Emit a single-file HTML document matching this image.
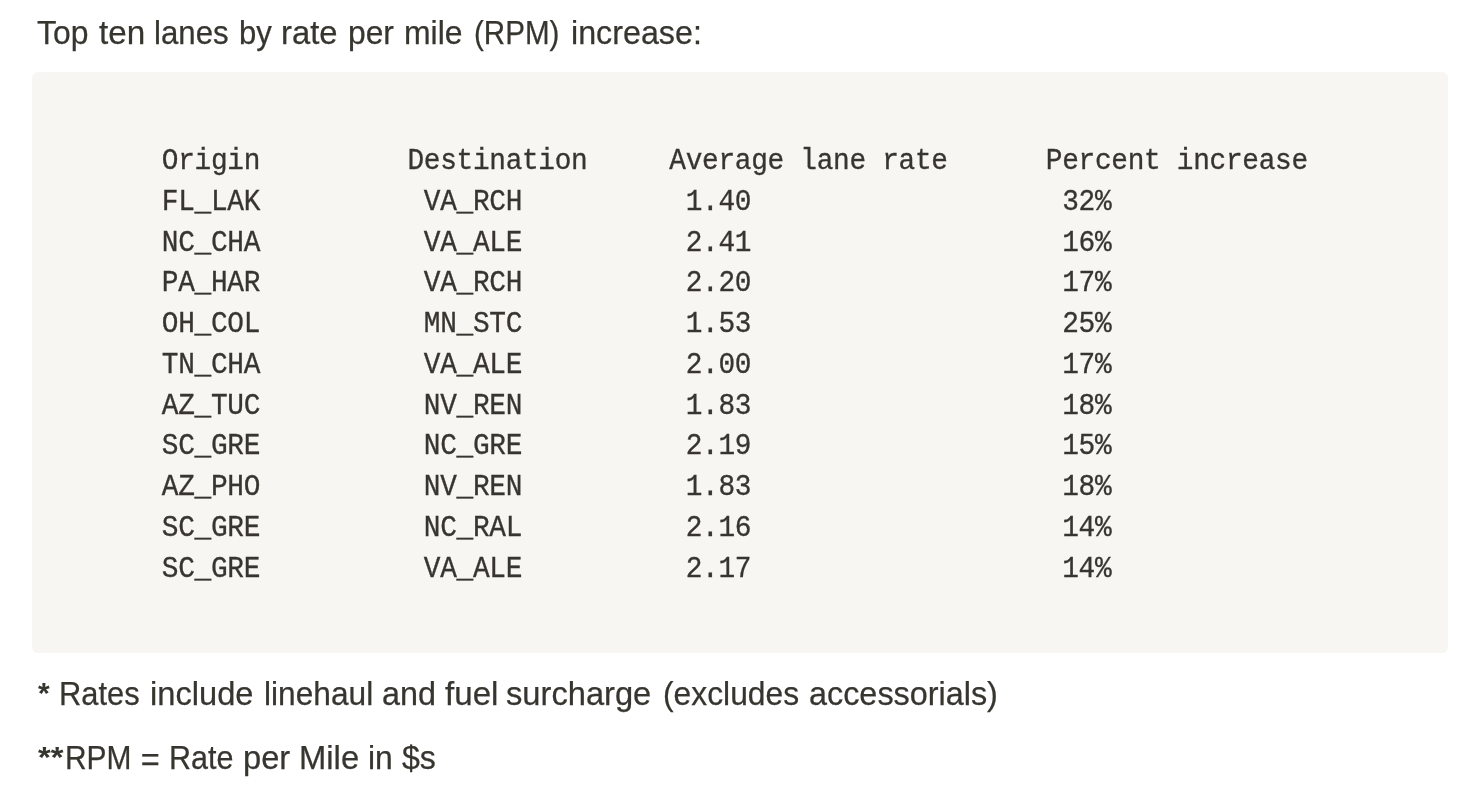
<!DOCTYPE html>
<html>
<head>
<meta charset="utf-8">
<title>Top ten lanes by RPM increase</title>
<style>
html,body{margin:0;padding:0;background:#ffffff;}
body{width:1476px;height:793px;position:relative;overflow:hidden;will-change:transform;font-family:"Liberation Sans",sans-serif;color:#37352f;}
.t{position:absolute;left:0;width:1476px;height:48px;margin:0;font-size:32.5px;line-height:48px;white-space:nowrap;-webkit-text-stroke:0.25px #37352f;}
.t span{position:absolute;top:0;display:block;transform-origin:0 50%;white-space:nowrap;}
#h{top:8.6px;}
#f1{top:669.6px;}
#f2{top:733.6px;}
#blk{position:absolute;left:32px;top:72px;width:1416px;height:581px;background:#f7f6f3;border-radius:6px;}
pre{position:absolute;left:161.85px;top:140.9px;margin:0;font-family:"Liberation Mono",monospace;font-size:27.8px;line-height:37.7778px;letter-spacing:-0.3100px;transform:scaleY(1.08);transform-origin:0 0;color:#37352f;white-space:pre;-webkit-text-stroke:0.3px #37352f;}
</style>
</head>
<body>
<p class="t" id="h"><span style="left:37.00px;transform:scaleX(0.9808)">Top</span><span style="left:98.75px;transform:scaleX(1.0227)">ten</span><span style="left:154.04px;transform:scaleX(0.9605)">lanes</span><span style="left:238.54px;transform:scaleX(0.9559)">by</span><span style="left:281.49px;transform:scaleX(1.0093)">rate</span><span style="left:347.77px;transform:scaleX(0.9783)">per</span><span style="left:404.02px;transform:scaleX(0.9828)">mile</span><span style="left:474.09px;transform:scaleX(0.9103)">(RPM)</span><span style="left:570.51px;transform:scaleX(0.9922)">increase:</span></p>
<div id="blk"></div>
<pre>Origin         Destination     Average lane rate      Percent increase
FL_LAK          VA_RCH          1.40                   32%
NC_CHA          VA_ALE          2.41                   16%
PA_HAR          VA_RCH          2.20                   17%
OH_COL          MN_STC          1.53                   25%
TN_CHA          VA_ALE          2.00                   17%
AZ_TUC          NV_REN          1.83                   18%
SC_GRE          NC_GRE          2.19                   15%
AZ_PHO          NV_REN          1.83                   18%
SC_GRE          NC_RAL          2.16                   14%
SC_GRE          VA_ALE          2.17                   14%</pre>
<p class="t" id="f1"><span style="left:38.00px;top:-1.0px;font-weight:bold;-webkit-text-stroke:0;transform:scale(0.9231,0.89)">*</span><span style="left:58.60px;transform:scaleX(0.9488)">Rates</span><span style="left:149.50px;transform:scaleX(1.0050)">include</span><span style="left:263.52px;transform:scaleX(0.9750)">linehaul</span><span style="left:381.50px;transform:scaleX(0.9952)">and</span><span style="left:445.00px;transform:scaleX(1.0196)">fuel</span><span style="left:506.49px;transform:scaleX(1.0052)">surcharge</span><span style="left:662.77px;transform:scaleX(0.9783)">(excludes</span><span style="left:809.00px;transform:scaleX(0.9960)">accessorials)</span></p>
<p class="t" id="f2"><span style="left:38.00px;top:-1.0px;font-weight:bold;-webkit-text-stroke:0;transform:scale(1.0077,0.89)">**</span><span style="left:65.16px;transform:scaleX(0.9203)">RPM</span><span style="left:140.75px;top:2.8px;transform:scale(1.0000,1)">=</span><span style="left:168.62px;transform:scaleX(0.9394)">Rate</span><span style="left:243.24px;transform:scaleX(1.0054)">per</span><span style="left:299.23px;transform:scaleX(1.0088)">Mile</span><span style="left:367.72px;transform:scaleX(0.9804)">in</span><span style="left:402.40px;transform:scaleX(0.9882)">$s</span></p>
</body>
</html>
